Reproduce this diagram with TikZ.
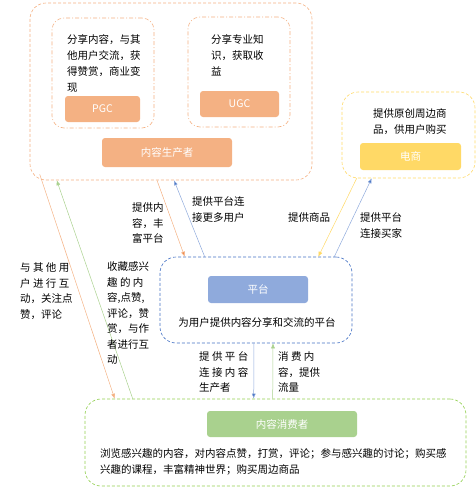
\documentclass[tikz,border=0pt]{standalone}
\usepackage{fontspec}
\newfontfamily\cjk{Noto Sans CJK SC}
\usetikzlibrary{arrows.meta}
\usetikzlibrary{positioning,calc}

\definecolor{orgfill}{HTML}{F4B183}
\definecolor{orgline}{HTML}{F4B183}
\definecolor{orgdark}{HTML}{F08A4B}
\definecolor{yelfill}{HTML}{FFD966}
\definecolor{bluefill}{HTML}{8FAADC}
\definecolor{blueline}{HTML}{4472C4}
\definecolor{grnfill}{HTML}{A9D18E}
\definecolor{grnline}{HTML}{92D050}

\tikzset{
   grp/.style={rounded corners=16pt, line width=0.6pt,
      dash pattern=on 3pt off 2pt},
   sub/.style={rounded corners=12pt, line width=0.6pt, draw=orgline,
      dash pattern=on 4pt off 2pt on 1pt off 2pt},
   tag/.style={rounded corners=3pt, text=white, inner sep=0pt},
   txt/.style={anchor=north west, align=left, inner sep=0pt},
   lbl/.style={txt, font=\cjk\fontsize{10.5}{15.5}\selectfont},
   arr/.style={-{Latex[length=5pt,width=4pt]}, line width=0.5pt},
}

\begin{document}
\begin{tikzpicture}[x=1pt, y=-1pt,
      every node/.style={font=\cjk\fontsize{10.5}{16}\selectfont}]
   \useasboundingbox (0,0) rectangle (476,491);

   % content producers
   \node[grp, draw=orgline, minimum width=282pt, minimum height=177pt]
      (pr0) at (171,91.5) {};
   \node[sub, minimum width=102pt, minimum height=110pt] (pg0) at (103,73) {};
   \node[sub, minimum width=102pt, minimum height=110pt] (ug0) at (239,72) {};
   \node[txt] (pg2) at (67,34.5) {分享内容，与其\\他用户交流，获\\得赞赏，商业变\\现};
   \node[txt] (ug2) at (211,34.5) {分享专业知\\识，获取收\\益};
   \node[tag, fill=orgfill, minimum width=75pt, minimum height=26pt]
      (pg1) at (102.5,109) {PGC};
   \node[tag, fill=orgfill, minimum width=79pt, minimum height=26pt]
      (ug1) at (239.5,104) {UGC};
   \node[tag, fill=orgfill, minimum width=130pt, minimum height=29pt]
      (pr1) at (167,152.5) {内容生产者};

   % e-commerce
   \node[grp, draw=yelfill, minimum width=133pt, minimum height=86pt]
      (ec0) at (408.5,135) {};
   \node[txt] (ec2) at (373,108.5) {提供原创周边商\\品，供用户购买};
   \node[tag, fill=yelfill, minimum width=101pt, minimum height=27pt]
      (ec1) at (410.5,156.5) {电商};

   % platform
   \node[grp, draw=blueline, minimum width=192pt, minimum height=86pt]
      (pl0) at (256,300) {};
   \node[tag, fill=bluefill, minimum width=100pt, minimum height=27pt]
      (pl1) at (258,289.5) {平台};
   \node[inner sep=0pt] (pl2) at (257,322) {为用户提供内容分享和交流的平台};

   % content consumers
   \node[grp, draw=grnline, minimum width=381pt, minimum height=87pt]
      (co0) at (275.5,442.5) {};
   \node[tag, fill=grnfill, minimum width=150pt, minimum height=26pt]
      (co1) at (282,424) {内容消费者};
   \node[txt] (co2) at (100,448.5)
      {浏览感兴趣的内容，对内容点赞，打赏，评论；参与感兴趣的讨论；购买感\\兴趣的课程，丰富精神世界；购买周边商品};

   % producer <-> consumer
   \draw[arr, draw=orgline, -{Latex[length=5pt,width=4pt,fill=orgfill]}]
      ($(pr0.south west)+(10,-6)$) -- ($(co0.north west)+(30,0)$);
   \draw[arr, draw=grnfill] ($(co0.north west)+(48,0)$) -- ($(pr0.south west)+(27,0)$);
   \node[lbl] (l1) at (20,262.5) {与 其 他 用\\户 进 行 互\\动，关注点\\赞，评论};
   \node[lbl] (l2) at (107,261.5) {收藏感兴\\趣 的 内\\容,点赞,\\评论，赞\\赏，与作\\者进行互\\动};

   % producer <-> platform
   \draw[arr, draw=orgline, -{Latex[length=5pt,width=4pt,fill=orgdark]}]
      ($(pr0.south)+(-14,0)$) -- ($(pl0.north west)+(25,0)$);
   \draw[arr, draw=bluefill, -{Latex[length=5pt,width=4pt,fill=blueline]}]
      ($(pl0.north west)+(45,0)$) -- ($(pr0.south)+(3,0)$);
   \node[lbl] (l3) at (132,202.5) {提供内\\容，丰\\富平台};
   \node[lbl] (l4) at (192,196.5) {提供平台连\\接更多用户};

   % e-commerce <-> platform
   \draw[arr, draw=yelfill] ($(ec0.south west)+(15,0)$) -- ($(pl0.north east)+(-34,0)$);
   \draw[arr, draw=bluefill, -{Latex[length=5pt,width=4pt,fill=blueline]}]
      ($(pl0.north east)+(-18,0)$) -- ($(ec0.south west)+(30,0)$);
   \node[lbl] (l5) at (288,212.5) {提供商品};
   \node[lbl] (l6) at (360,212.5) {提供平台\\连接买家};

   % platform <-> consumer
   \draw[arr, draw=bluefill, -{Latex[length=5pt,width=4pt,fill=blueline]}]
      ($(pl0.south)+(-2,0)$) -- ($(co0.north west)+(169,0)$);
   \draw[arr, draw=grnfill] ($(co0.north west)+(188,0)$) -- ($(pl0.south)+(17,0)$);
   \node[lbl] (l7) at (199,351.5) {提 供 平 台\\连 接 内 容\\生产者};
   \node[lbl] (l8) at (278,351.5) {消 费 内\\容，提供\\流量};
\end{tikzpicture}
\end{document}
